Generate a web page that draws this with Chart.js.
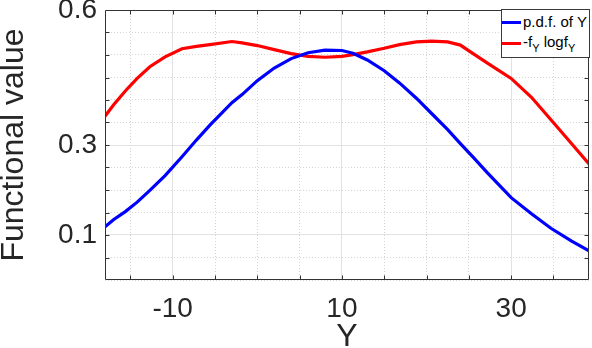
<!DOCTYPE html>
<html><head><meta charset="utf-8">
<script src="https://cdn.jsdelivr.net/npm/chart.js@4"></script>
<style>
html,body{margin:0;padding:0;background:#fff;}
#wrap{position:relative;width:592px;height:348px;overflow:hidden;}
#legend{position:absolute;left:501px;top:9px;width:89px;height:49px;box-sizing:border-box;border:1px solid #3a3a3a;background:#fff;font-family:"Liberation Sans",Arial,sans-serif;font-size:15px;color:#000;}
.sw{position:absolute;left:0px;width:19px;height:3px;}
.lbl{position:absolute;left:21px;line-height:15px;white-space:nowrap;}
.lbl sub{font-size:11px;vertical-align:-5px;line-height:0;}
</style></head>
<body><div id="wrap"><canvas id="c" width="592" height="348"></canvas>
<div id="legend">
  <div class="sw" id="sw0" style="top:11px"></div><div class="lbl" style="top:4px">p.d.f. of Y</div>
  <div class="sw" id="sw1" style="top:32px"></div><div class="lbl" style="top:24px">-f<sub>Y</sub> logf<sub>Y</sub></div>
</div></div>
<script>
// ---- data ----
const xValues       = [-18, -17, -15.6, -14.2, -12.7, -10.9, -8.9, -7.2, -5.6, -3, -1.8, 0, 2, 4, 6, 8, 10, 11.3, 13, 15, 16.8, 18.8, 20.6, 22.5, 24, 25.5, 27.2, 30, 32.4, 34.7, 37.1, 39.2];
const pdfValues     = [0.118, 0.134, 0.152, 0.173, 0.199, 0.232, 0.274, 0.311, 0.344, 0.394, 0.412, 0.443, 0.471, 0.492, 0.505, 0.511, 0.510, 0.504, 0.489, 0.465, 0.438, 0.404, 0.370, 0.334, 0.303, 0.273, 0.238, 0.183, 0.147, 0.115, 0.087, 0.065];
const entropyValues = [0.364, 0.389, 0.420, 0.448, 0.474, 0.496, 0.514, 0.519, 0.523, 0.530, 0.527, 0.521, 0.512, 0.503, 0.497, 0.495, 0.497, 0.501, 0.507, 0.515, 0.523, 0.529, 0.531, 0.529, 0.522, 0.503, 0.482, 0.448, 0.406, 0.356, 0.304, 0.258];
const seriesLabels  = ['p.d.f. of Y', '-f_Y logf_Y'];
const seriesColors  = ['#0000ff', '#ff0000'];
const xMajorTicks   = [-10, 10, 30];
const yMajorTicks   = [0.1, 0.3, 0.6];
const xGridStep = 5, yGridStep = 0.05;
const xRange = [-18, 39.2], yRange = [0, 0.6];
const xTitle = 'Y', yTitle = 'Functional value';

document.getElementById('sw0').style.background = seriesColors[0];
document.getElementById('sw1').style.background = seriesColors[1];

const FONT = '"Liberation Sans", Arial, Helvetica, sans-serif';
const isMajor = (v, arr) => arr.some(m => Math.abs(m - v) < 1e-6);
const buildTicks = (step) => (scale) => {
  const t = [];
  for (let k = Math.ceil(scale.min / step - 1e-9); k * step <= scale.max + 1e-9; k++) {
    t.push({ value: +(k * step).toFixed(4) });
  }
  scale.ticks = t;
};
const zeroPad = (s) => { s.paddingTop = 0; s.paddingBottom = 0; s.paddingLeft = 0; s.paddingRight = 0; };

const framePlugin = {
  id: 'frame',
  afterDraw(chart) {
    const { ctx, chartArea: a, scales: { x, y } } = chart;
    const L = Math.round(a.left) + 0.5, R = Math.round(a.right) - 0.5;
    const T = Math.round(a.top) + 0.5, B = Math.round(a.bottom) - 0.5;
    ctx.save();
    ctx.strokeStyle = '#333';
    ctx.lineWidth = 1;
    ctx.beginPath();
    ctx.rect(L, T, R - L, B - T);
    x.ticks.forEach(t => {
      const p = Math.round(x.getPixelForValue(t.value)) + 0.5;
      if (p <= L + 1 || p >= R - 1) return;
      ctx.moveTo(p, B); ctx.lineTo(p, B - 4);
      ctx.moveTo(p, T); ctx.lineTo(p, T + 4);
    });
    y.ticks.forEach(t => {
      const p = Math.round(y.getPixelForValue(t.value)) + 0.5;
      if (p <= T + 1 || p >= B - 1) return;
      ctx.moveTo(L, p); ctx.lineTo(L + 4, p);
      ctx.moveTo(R, p); ctx.lineTo(R - 4, p);
    });
    ctx.stroke();
    ctx.restore();
  }
};

new Chart(document.getElementById('c'), {
  type: 'line',
  data: {
    datasets: [
      { label: seriesLabels[0], data: xValues.map((v, i) => ({ x: v, y: pdfValues[i] })),
        borderColor: seriesColors[0], borderWidth: 3.2, pointRadius: 0, tension: 0, fill: false },
      { label: seriesLabels[1], data: xValues.map((v, i) => ({ x: v, y: entropyValues[i] })),
        borderColor: seriesColors[1], borderWidth: 3.2, pointRadius: 0, tension: 0, fill: false }
    ]
  },
  options: {
    responsive: false,
    animation: false,
    events: [],
    layout: { padding: { top: 10, right: 3, left: 0, bottom: 0 } },
    plugins: { legend: { display: false }, tooltip: { enabled: false } },
    scales: {
      x: {
        type: 'linear', min: xRange[0], max: xRange[1],
        afterBuildTicks: buildTicks(xGridStep),
        afterFit: (s) => { s.height = 68; zeroPad(s); },
        ticks: { autoSkip: false, maxRotation: 0, padding: 12, color: '#262626',
          font: { family: FONT, size: 28 },
          callback: (v) => isMajor(v, xMajorTicks) ? String(v) : '' },
        grid: { drawTicks: false,
          color: (c) => (c.tick && isMajor(c.tick.value, xMajorTicks)) ? '#e2e2e2' : '#d4d4d4',
          lineWidth: 1 },
        border: { display: false,
          dash: (c) => (c.tick && !isMajor(c.tick.value, xMajorTicks)) ? [1, 2] : [] },
        title: { display: true, text: xTitle, color: '#262626', padding: 0,
          font: { family: FONT, size: 32, lineHeight: 0.7 } }
      },
      y: {
        type: 'linear', min: yRange[0], max: yRange[1],
        afterBuildTicks: buildTicks(yGridStep),
        afterFit: (s) => { s.width = 105; zeroPad(s); },
        ticks: { autoSkip: false, padding: 8, color: '#262626',
          font: { family: FONT, size: 28 },
          callback: (v) => isMajor(v, yMajorTicks) ? String(v) : '' },
        grid: { drawTicks: false,
          color: (c) => (c.tick && isMajor(c.tick.value, yMajorTicks)) ? '#e2e2e2' : '#d4d4d4',
          lineWidth: 1 },
        border: { display: false,
          dash: (c) => (c.tick && !isMajor(c.tick.value, yMajorTicks)) ? [1, 2] : [] },
        title: { display: true, text: yTitle, color: '#262626', padding: 0,
          font: { family: FONT, size: 32, lineHeight: 0.9 } }
      }
    }
  },
  plugins: [framePlugin]
});
</script>
</body></html>
